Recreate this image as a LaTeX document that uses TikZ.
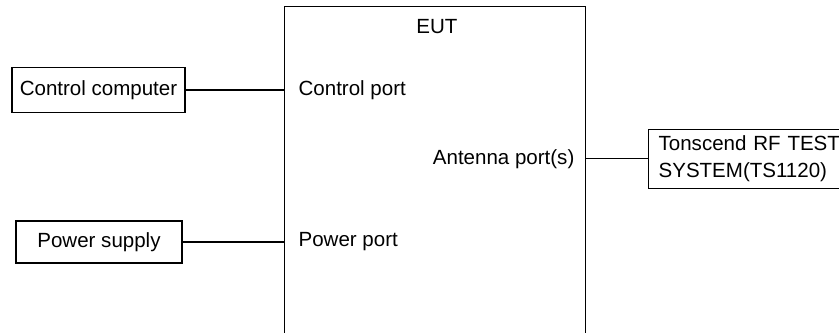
\documentclass[tikz,border=0pt]{standalone}
\usepackage{fontspec}
\setmainfont{Liberation Sans}
\usepackage{tikz}
\usetikzlibrary{positioning}

\begin{document}
\begin{tikzpicture}[line width=0.9pt,
  box/.style={draw,rectangle,inner sep=0pt,font=\fontsize{14.6}{19.2}\selectfont},
  portlabel/.style={inner sep=0pt,font=\fontsize{14.6}{19.2}\selectfont}]
\useasboundingbox (0,0) rectangle (20.975,-8.325);
\clip (0,0) rectangle (20.975,-8.325);
\node[box, minimum width=7.525cm, minimum height=8.6cm, anchor=north west] (eut) at (7.1,-0.15) {};
\node[portlabel] (eutname) at (10.925,-0.675) {EUT};
\node[box, minimum width=4.325cm, minimum height=1.125cm] (cc) at (2.4625,-2.25) {Control computer};
\node[box, minimum width=4.15cm, minimum height=1.05cm] (ps) at (2.475,-6.05) {Power supply};
\node[box, anchor=west, align=left, text width=5.2cm, inner xsep=0.25cm, minimum height=1.475cm] (rf) at (16.2,-3.97) {Tonscend RF TEST\\SYSTEM(TS1120)};
\node[portlabel, anchor=west] (ctrlport) at (7.45,-2.25) {Control port};
\node[portlabel, anchor=west] (pwrport) at (7.45,-6.05) {Power port};
\node[portlabel, anchor=east] (antport) at (14.375,-3.97) {Antenna port(s)};
\draw (cc.east) -- (cc.east -| eut.west);
\draw (ps.east) -- (ps.east -| eut.west);
\draw (eut.east |- rf.west) -- (rf.west);
\end{tikzpicture}
\end{document}
